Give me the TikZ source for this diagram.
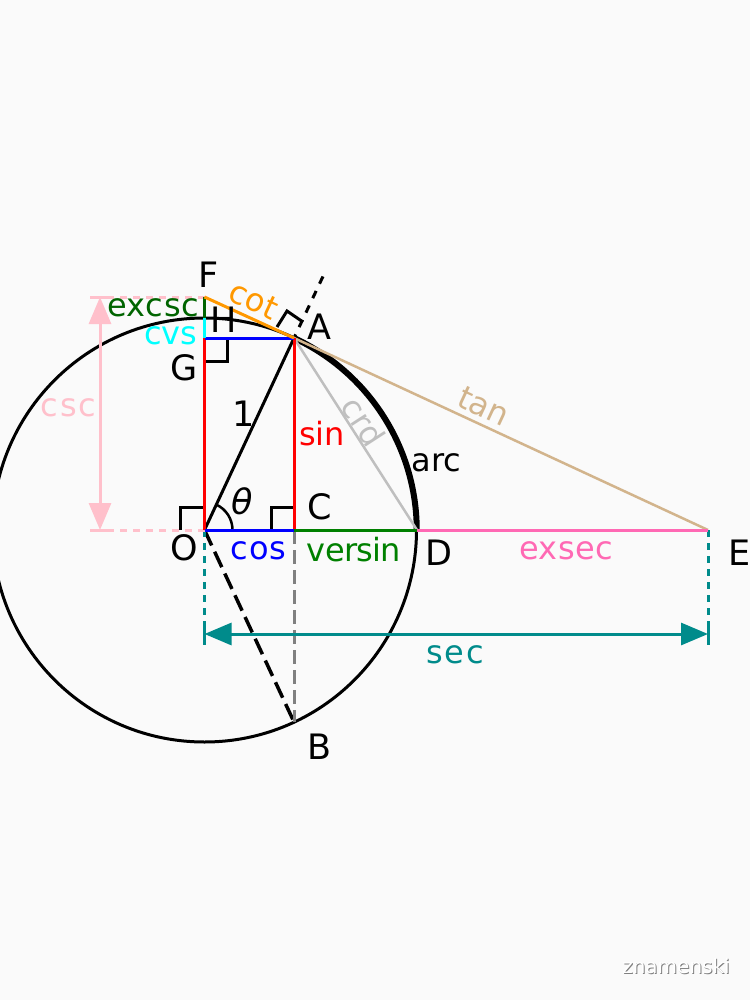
\documentclass[tikz,border=0pt]{standalone}
\usepackage{fontspec}
\usepackage{xcolor}
\setmainfont{DejaVu Sans}
\usetikzlibrary{arrows.meta}
\definecolor{paper}{HTML}{FAFAFA}
\definecolor{mypink}{HTML}{FFC0CB}
\definecolor{myteal}{HTML}{008B8B}
\definecolor{mytan}{HTML}{D2B48C}
\definecolor{mygreen}{HTML}{008000}
\definecolor{mydarkgreen}{HTML}{006400}
\definecolor{myorange}{HTML}{FF9800}
\definecolor{myhot}{HTML}{FF69B4}
\definecolor{mycyan}{HTML}{00FFFF}
\newcommand{\lsp}[1]{\addfontfeature{LetterSpace=#1}}
\tikzstyle{pointlabel} = [inner sep=0pt, font=\fontsize{35}{35}\selectfont]
\tikzstyle{fnlabel} = [inner sep=0pt, font=\fontsize{32}{32}\selectfont]
\tikzstyle{seg} = [line width=3pt]
\tikzstyle{thinseg} = [line width=2.5pt]
\tikzstyle{anglemark} = [line width=3pt, black, line join=miter]
\tikzstyle{dashline} = [line width=3.5pt, dash pattern=on 17pt off 7pt]
\tikzstyle{grayline} = [line width=3pt, dash pattern=on 14pt off 6pt]
\tikzstyle{dotline} = [line width=3pt, dash pattern=on 7pt off 6pt]

\begin{document}
\begin{tikzpicture}[x=1pt,y=-1pt]
        \fill[paper] (0,0) rectangle (750,1000);
        \clip (0,0) rectangle (750,1000);
        \useasboundingbox (0,0) rectangle (750,1000);
        % points
        \coordinate (O) at (204.5,530);
        \coordinate (A) at (294,338);
        \coordinate (B) at (294,722);
        \coordinate (C) at (294,530);
        \coordinate (D) at (417,530);
        \coordinate (E) at (708,530);
        \coordinate (F) at (204.5,297);
        \coordinate (G) at (204.5,338);
        \coordinate (H) at (204.5,318);
        \coordinate (Atop) at (326,270);
        \coordinate (Oleft) at (112,530);
        \coordinate (Fleft) at (112,297);
        \coordinate (Olow) at (204.5,622);
        \coordinate (Elow) at (708,622);
        \coordinate (secl) at (204.5,634);
        \coordinate (secr) at (708,634);
        \coordinate (cscu) at (100,297);
        \coordinate (cscd) at (100,530);
        % circle and arc
        \draw[seg] (O) circle[radius=212pt];
        \draw[line width=6pt] (A) arc[start angle=65.1,end angle=0,radius=212pt];
        % right angles
        \draw[anglemark] (O) ++(-24,0) -- ++(0,-23) -- ++(24,0);
        \draw[anglemark] (C) ++(-23,0) -- ++(0,-23) -- ++(23,0);
        \draw[anglemark] (G) ++(0,23) -- ++(23,0) -- ++(0,-23);
        \draw[anglemark] (277,327) -- (287,311) -- (303,322);
        \draw[line width=2.5pt] (O) ++(28,0) arc[start angle=0,end angle=65,radius=28pt];
        % dashed helpers
        \draw[dashline] (O) -- (B);
        \draw[grayline, gray] (C) -- (B);
        \draw[seg, dash pattern=on 8pt off 8pt, dash phase=4pt] (A) -- (Atop);
        \draw[dotline, myteal] (O) -- (Olow);
        \draw[dotline, myteal] (E) -- (Elow);
        \draw[dotline, mypink] (O) -- (Oleft);
        \draw[dotline, mypink] (F) -- (Fleft);
        % end ticks
        \draw[seg, myteal] (204.5,622) -- (204.5,645);
        \draw[seg, myteal] (708,622) -- (708,645);
        \draw[seg, mypink] (90,297) -- (112,297);
        \draw[seg, mypink] (90,530) -- (112,530);
        % segments
        \draw[seg, black] (O) -- (A);
        \draw[thinseg, mytan] (A) -- (E);
        \draw[thinseg, lightgray] (A) -- (D);
        \draw[seg, red] (O) -- (G);
        \draw[seg, red] (C) -- (A);
        \draw[seg, blue] (O) -- (C);
        \draw[seg, blue] (G) -- (A);
        \draw[seg, mygreen] (C) -- (D);
        \draw[seg, myhot] (D) -- (E);
        \draw[seg, mycyan] (G) -- (H);
        \draw[seg, mydarkgreen] (H) -- (F);
        \draw[seg, myorange] (F) -- (A);
        % double arrows
        \draw[seg, myteal, {Triangle[length=27pt,width=22pt]}-{Triangle[length=27pt,width=22pt]}] (secl) -- (secr);
        \draw[seg, mypink, {Triangle[length=27pt,width=22pt]}-{Triangle[length=27pt,width=22pt]}] (cscu) -- (cscd);
        % point labels
        \node[pointlabel] (lF) at (208.5,275) {F};
        \node[pointlabel] (lH) at (224,320) {H};
        \node[pointlabel] (lA) at (319.5,327) {A};
        \node[pointlabel] (lG) at (184,368) {G};
        \node[pointlabel] (lO) at (184,548) {O};
        \node[pointlabel] (lC) at (319.5,507) {C};
        \node[pointlabel] (lD) at (439,553) {D};
        \node[pointlabel] (lE) at (739.5,553) {E};
        \node[pointlabel] (lB) at (319.5,747) {B};
        \node[pointlabel] (lone) at (243.5,414) {1};
        \node[pointlabel, font=\fontsize{35}{35}\selectfont\itshape] (ltheta) at (242,501) {θ};
        \node[fnlabel, black] (larc) at (436.5,463) {arc};
        % function labels
        \node[fnlabel, red] (lsin) at (322,434) {sin};
        \node[fnlabel, blue] (lcos) at (258.5,551) {\lsp{3}cos};
        \node[fnlabel, mygreen] (lversin) at (354,550) {\lsp{-2}versin};
        \node[fnlabel, myhot] (lexsec) at (566,551) {\lsp{1}exsec};
        \node[fnlabel, myteal] (lsec) at (455,655) {\lsp{6}sec};
        \node[fnlabel, mypink] (lcsc) at (68.5,408) {\lsp{6}csc};
        \node[fnlabel, mycyan] (lcvs) at (170.5,336) {\lsp{-1}cvs};
        \node[fnlabel, mydarkgreen] (lexcsc) at (153,308) {\lsp{2}excsc};
        \node[fnlabel, myorange, rotate=-25] (lcot) at (253.5,300) {cot};
        \node[fnlabel, mytan, rotate=-25] (ltan) at (483.5,406.5) {tan};
        \node[fnlabel, lightgray, rotate=-57] (lcrd) at (363.5,421.5) {crd};
        % watermark
        \node[inner sep=0pt, font=\fontsize{20}{20}\selectfont, gray] (lshadow) at (677,967) {znamenski};
        \node[inner sep=0pt, font=\fontsize{20}{20}\selectfont, white] (lmark) at (676,966) {znamenski};
    \end{tikzpicture}
\end{document}
